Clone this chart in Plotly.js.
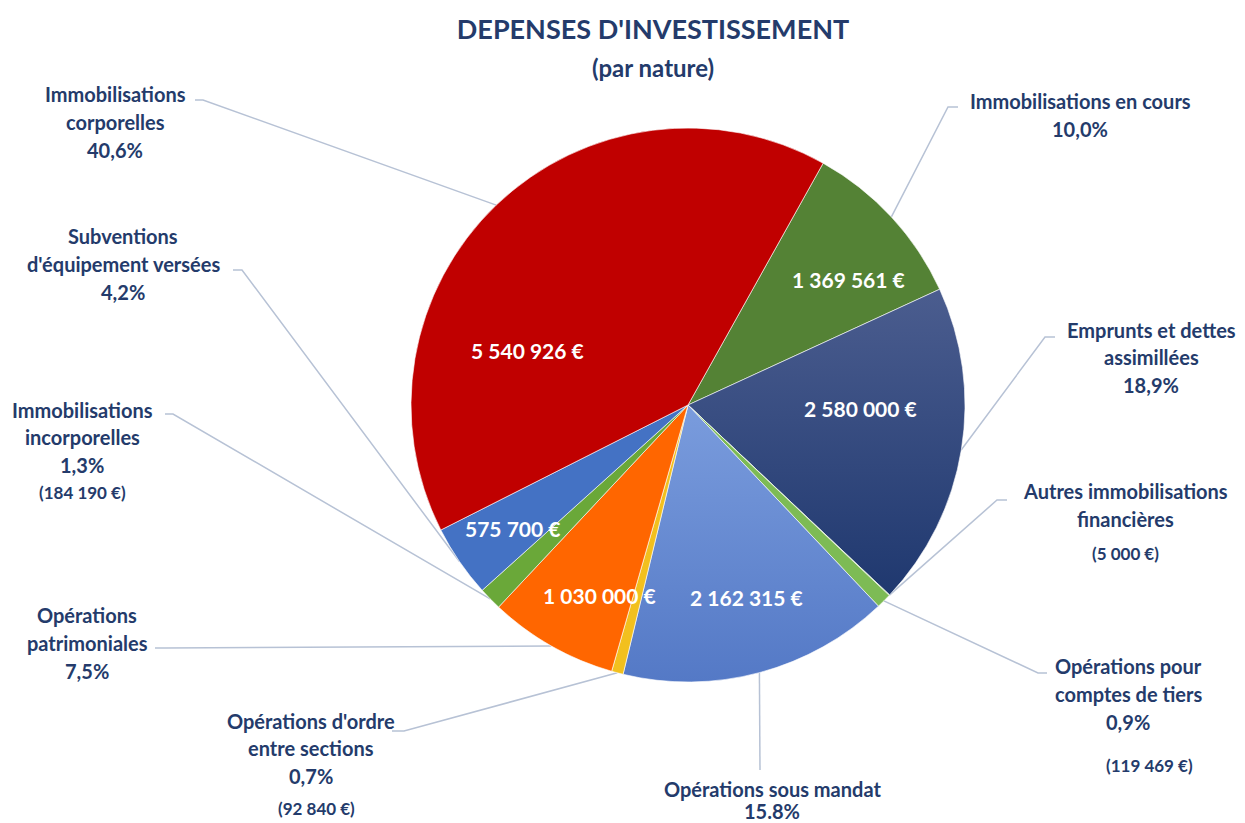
<!DOCTYPE html>
<html>
<head>
<meta charset="utf-8">
<script src="https://cdn.plot.ly/plotly-3.0.1.min.js"></script>
<style>
  html, body { margin: 0; padding: 0; background: #ffffff; }
  #chart { width: 1245px; height: 823px; }
</style>
</head>
<body>
<div id="chart"></div>
<script>
// ---------------- DATA ----------------
const categories = [
  "Immobilisations en cours",
  "Emprunts et dettes<br>assimillées",
  "Autres immobilisations<br>financières",
  "Opérations pour<br>comptes de tiers",
  "Opérations sous mandat",
  "Opérations d'ordre<br>entre sections",
  "Opérations<br>patrimoniales",
  "Immobilisations<br>incorporelles",
  "Subventions<br>d'équipement versées",
  "Immobilisations<br>corporelles"
];
const amounts = [1369561, 2580000, 5000, 119469, 2162315, 92840, 1030000, 184190, 575700, 5540926];
const pctLabels = ["10,0%", "18,9%", "", "0,9%", "15.8%", "0,7%", "7,5%", "1,3%", "4,2%", "40,6%"];
const sliceColors = ["#548235", "#2E4A84", "#70AD47", "#7DBB55", "#6A8ED6", "#F2C01E", "#FF6600", "#6AA839", "#4472C4", "#C00000"];

// ---------------- LAYOUT CONFIG (positions / styles) ----------------
const W = 1245, H = 823;
const CX = 688, CY = 405, R = 277;   // pie centre & radius in pixels
const ROT = 29.2;                    // start angle of first slice (clockwise from 12 o'clock)
const navy = "#243B6B";
const FONT = "Lato, 'Open Sans', sans-serif";

// where each slice's value is shown: 'in' (inside the slice) or 'out' (under the outside label)
const valuePlace = ["in", "in", "out", "out", "in", "out", "in", "out", "in", "in"];
// outside label positions (pixels): x centre, y centres of each line, value line (x,y)
const labelLayout = [
  {x: 1080, ys: [101, 129]},
  {x: 1151, ys: [330, 357, 385]},
  {x: 1125, ys: [491, 519], vx: 1125, vy: 553},
  {x: 1128, ys: [666, 694, 722], vx: 1149, vy: 765},
  {x: 772,  ys: [789, 811]},
  {x: 311,  ys: [721, 748, 776], vx: 316, vy: 808},
  {x: 87,   ys: [615, 643, 671]},
  {x: 82,   ys: [410, 437, 465], vx: 82, vy: 493},
  {x: 123,  ys: [236, 264, 292]},
  {x: 115,  ys: [94, 122, 150]}
];
// leader-line anchor near label (start) and elbow point (pixels)
const leaderAnchor = [
  [[958, 107], [948, 107]],
  [[1055, 337], [1045, 337]],
  [[1007, 500], [997, 500]],
  [[1047, 673], [1038, 673]],
  [[760, 770], [760, 770]],
  [[392, 731], [404, 731]],
  [[155, 648], [165, 648]],
  [[165, 414], [173, 414]],
  [[233, 270], [242, 270]],
  [[195, 100], [203, 100]]
];
// inside value label positions (pixels)
const insidePos = [
  [848, 280], [860, 408], null, null, [746, 597], null, [599, 595], null, [512, 528], [527, 350]
];

// ---------------- HELPERS ----------------
const px = x => x / W;
const py = y => 1 - y / H;
const fmtEuro = v => String(v).replace(/\B(?=(\d{3})+(?!\d))/g, " ") + " €";

const total = amounts.reduce((a, b) => a + b, 0);
let cum = 0;
const midAngles = amounts.map(v => {
  const m = ROT + 360 * (cum + v / 2) / total;
  cum += v;
  return m;
});

const annotations = [];
const shapes = [];

// subtitle
annotations.push({
  xref: "paper", yref: "paper", x: px(653), y: py(67), xanchor: "center", yanchor: "middle",
  text: "<b>(par nature)</b>", showarrow: false,
  font: {family: FONT, size: 24, color: navy}
});

categories.forEach((cat, i) => {
  const L = labelLayout[i];
  const lines = cat.split("<br>");
  if (pctLabels[i]) lines.push(pctLabels[i]);
  lines.forEach((t, k) => {
    annotations.push({
      xref: "paper", yref: "paper", x: px(L.x), y: py(L.ys[k]),
      xanchor: "center", yanchor: "middle", showarrow: false,
      text: "<b>" + t + "</b>",
      font: {family: FONT, size: 20, color: navy}
    });
  });
  if (valuePlace[i] === "out") {
    annotations.push({
      xref: "paper", yref: "paper", x: px(L.vx), y: py(L.vy),
      xanchor: "center", yanchor: "middle", showarrow: false,
      text: "<b>(" + fmtEuro(amounts[i]) + ")</b>",
      font: {family: FONT, size: 17, color: navy}
    });
  } else {
    const p = insidePos[i];
    annotations.push({
      xref: "paper", yref: "paper", x: px(p[0]), y: py(p[1]),
      xanchor: "center", yanchor: "middle", showarrow: false,
      text: "<b>" + fmtEuro(amounts[i]) + "</b>",
      font: {family: FONT, size: 21, color: "#ffffff"}
    });
  }
  // leader line: label anchor -> elbow -> slice edge at mid-angle
  const a = midAngles[i] * Math.PI / 180;
  const ex = CX + R * Math.sin(a), ey = CY - R * Math.cos(a);
  const [s, e] = leaderAnchor[i];
  shapes.push({
    type: "path", xref: "paper", yref: "paper", layer: "below",
    path: `M ${px(s[0])} ${py(s[1])} L ${px(e[0])} ${py(e[1])} L ${px(ex)} ${py(ey)}`,
    line: {color: "#B7C2D5", width: 1.5}
  });
});

const trace = {
  type: "pie",
  labels: categories,
  values: amounts,
  sort: false,
  direction: "clockwise",
  rotation: ROT,
  textinfo: "none",
  hoverinfo: "label+value+percent",
  marker: {colors: sliceColors, line: {color: "#ffffff", width: 0.6}},
  domain: {x: [px(CX - R), px(CX + R)], y: [py(CY + R), py(CY - R)]},
  showlegend: false
};

const layout = {
  width: W, height: H,
  margin: {l: 0, r: 0, t: 0, b: 0},
  paper_bgcolor: "#ffffff",
  plot_bgcolor: "#ffffff",
  showlegend: false,
  title: {
    text: "<b>DEPENSES D'INVESTISSEMENT</b>",
    x: px(653), xanchor: "center", y: py(30), yanchor: "middle", yref: "container",
    font: {family: FONT, size: 27, color: navy}
  },
  annotations: annotations,
  shapes: shapes
};

Plotly.newPlot("chart", [trace], layout, {displayModeBar: false, staticPlot: true}).then(() => {
  // vertical gradients for the two blue slices
  const svg = document.querySelector("#chart .main-svg");
  let defs = svg.querySelector("defs");
  const NS = "http://www.w3.org/2000/svg";
  function addGrad(id, c1, c2) {
    const g = document.createElementNS(NS, "linearGradient");
    g.setAttribute("id", id);
    g.setAttribute("x1", "0"); g.setAttribute("y1", "0");
    g.setAttribute("x2", "0"); g.setAttribute("y2", "1");
    [[0, c1], [1, c2]].forEach(([o, c]) => {
      const st = document.createElementNS(NS, "stop");
      st.setAttribute("offset", o);
      st.setAttribute("stop-color", c);
      g.appendChild(st);
    });
    defs.appendChild(g);
  }
  addGrad("gDark", "#4B5D8F", "#1F386F");
  addGrad("gLight", "#7A9CDD", "#5479C6");
  const paths = document.querySelectorAll("#chart .slice path.surface");
  if (paths[1]) paths[1].style.fill = "url(#gDark)";
  if (paths[4]) paths[4].style.fill = "url(#gLight)";
});
</script>
</body>
</html>
